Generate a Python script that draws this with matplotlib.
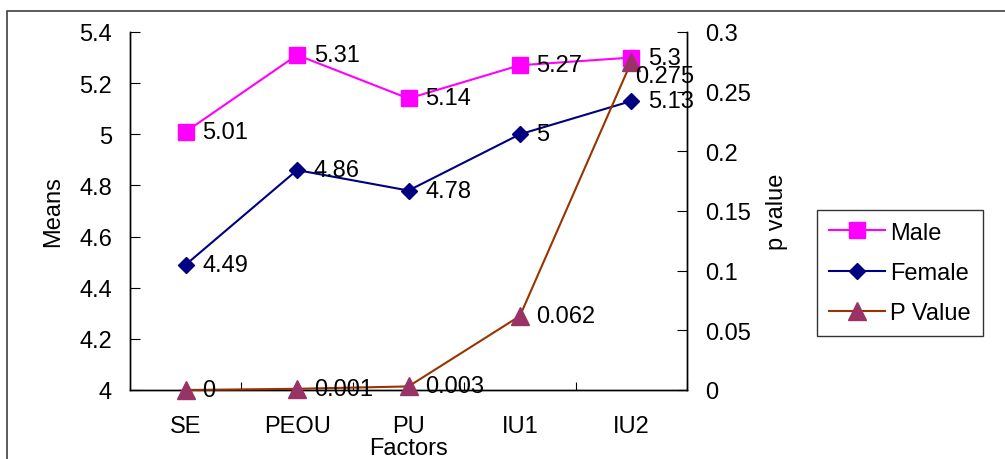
import numpy as np
import matplotlib.pyplot as plt
from matplotlib.patches import Rectangle

plt.rcParams['font.family'] = ['Liberation Sans', 'DejaVu Sans']

factors = ["SE", "PEOU", "PU", "IU1", "IU2"]
male = [5.01, 5.31, 5.14, 5.27, 5.3]
female = [4.49, 4.86, 4.78, 5.0, 5.13]
p_value = [0, 0.001, 0.003, 0.062, 0.275]
p_labels = ["0", "0.001", "0.003", "0.062", "0.275"]

fs = 17
x = np.arange(len(factors))

fig = plt.figure(figsize=(10.05, 4.6), dpi=100)
ax = fig.add_axes([130/1005, 1-391/460, 557/1005, 358/460])
ax2 = ax.twinx()

# outer chart border (cropped on right and bottom)
fig.patches.append(Rectangle((7/1005, -0.1), 1.2, 1-12/460+0.1, transform=fig.transFigure,
                             fill=False, edgecolor="#404040", linewidth=1.2))

l1, = ax.plot(x, male, color="#FF00FF", marker="s", markersize=11.5, linewidth=1.5,
              label="Male", zorder=3, clip_on=False)
l2, = ax.plot(x, female, color="#000080", marker="D", markersize=8, linewidth=1.5,
              label="Female", zorder=3, clip_on=False)
l3, = ax2.plot(x, p_value, color="#993300", marker="^", markersize=12.5, markerfacecolor="#993366",
               markeredgecolor="#993366", linewidth=1.5, label="P Value", zorder=3, clip_on=False)

for xi, v in zip(x, male):
    ax.annotate(f"{v:g}", (xi, v), xytext=(12, 0), textcoords="offset points", va="center", fontsize=fs)
for xi, v in zip(x, female):
    ax.annotate(f"{v:g}", (xi, v), xytext=(12, 0), textcoords="offset points", va="center", fontsize=fs)
for i, (xi, v) in enumerate(zip(x, p_value)):
    # last label sits just below the point, as in the original
    off = (3, -10) if i == len(x) - 1 else (12, 0)
    ax2.annotate(p_labels[i], (xi, v), xytext=off, textcoords="offset points", va="center", fontsize=fs)

ax.set_xlim(-0.5, len(x) - 0.5)
ax.set_ylim(4, 5.4)
ax2.set_ylim(0, 0.3)
ax.set_yticks(np.arange(4, 5.41, 0.2))
ax.set_yticklabels(["4", "4.2", "4.4", "4.6", "4.8", "5", "5.2", "5.4"])
ax2.set_yticks(np.arange(0, 0.301, 0.05))
ax2.set_yticklabels(["0", "0.05", "0.1", "0.15", "0.2", "0.25", "0.3"])

ax.set_xticks(x + 0.5)
ax.set_xticks(x, minor=True)
ax.set_xticklabels([])
ax.set_xticklabels(factors, minor=True)
ax.tick_params(axis="x", which="major", direction="in", length=6, width=0.8)
ax.tick_params(axis="x", which="minor", length=0, pad=18, labelsize=fs)
ax.tick_params(axis="y", direction="in", length=7, width=0.8, pad=13, labelsize=fs)
ax2.tick_params(axis="y", direction="in", length=7, width=0.8, pad=13, labelsize=fs)

for a in (ax, ax2):
    a.spines["top"].set_visible(False)
    for s in ("left", "right", "bottom"):
        a.spines[s].set_linewidth(1.0)

ax.set_ylabel("Means", fontsize=fs)
ax.yaxis.set_label_coords(-0.138, 0.5)
ax.yaxis.label.set_va("center")
ax2.set_ylabel("p value", fontsize=fs)
ax2.yaxis.set_label_coords(1.1616, 0.5)
ax2.yaxis.label.set_va("center")
ax.set_xlabel("Factors", fontsize=fs)
ax.xaxis.set_label_coords(0.5, -0.13)

leg = fig.legend(handles=[l1, l2, l3], loc="center left", bbox_to_anchor=(817/1005, 1-274/460),
                 fontsize=fs, frameon=True, fancybox=False, edgecolor="black", handlelength=2.4,
                 handletextpad=0.2, labelspacing=0.78, borderpad=0.5, borderaxespad=0)
leg.get_frame().set_linewidth(1.0)

fig.savefig("out.png", dpi=100)
